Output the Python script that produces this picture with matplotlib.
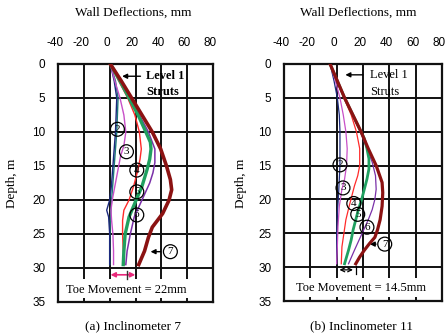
import matplotlib.pyplot as plt
from matplotlib.transforms import ScaledTranslation

plt.rcParams['axes.unicode_minus'] = False

W, H = 446, 336

# ---- Inclinometer 7 : depth (m) / deflection (mm) for each excavation stage ----
i7_d2 = [0, 2.5, 5, 10, 15, 18, 20, 21.5, 22.5, 25, 29.5]
i7_x2 = [0.5, 3.5, 5.5, 4.5, 2.5, 1.3, 0, -2.3, -0.8, 0, 0]
i7_d2b = [0, 2.5, 5, 10, 15, 20, 23, 26, 29.5]
i7_x2b = [0.5, 4.5, 6.5, 5.5, 3.5, 1.5, 0.5, 0, 0]
i7_d3 = [0, 2.5, 5, 7.5, 10, 12, 13.5, 15.5, 18, 20, 21.5, 23, 25, 27.5, 29.5]
i7_x3 = [0.5, 4, 8, 11, 12.5, 11, 8.5, 6.5, 4, 2, 1, 1.5, 2.5, 3, 3]
i7_d4 = [0, 2.5, 5, 7.5, 10, 12.5, 14, 15.5, 18, 20, 21.5, 23, 25, 27.5, 29.5]
i7_x4 = [0.5, 7, 14, 19.5, 23, 24.5, 23.5, 22, 18.5, 15, 11, 10, 10, 10.5, 11.5]
i7_d5 = [0, 2.5, 5, 7.5, 10, 11.5, 12.5, 14, 15.5, 18, 20, 22.5, 25, 27.5, 29.5]
i7_x5 = [0.5, 8, 15, 22, 28, 31.5, 32, 31, 29, 25, 20.5, 15, 12, 11, 10.5]
i7_d6 = [0, 2.5, 5, 7.5, 10, 12.5, 14.5, 16, 17.5, 20, 22.5, 25, 27.5, 29.5]
i7_x6 = [0.5, 8, 15.5, 23, 30, 35, 35, 33.5, 31, 25, 19, 16, 13.5, 12.5]
i7_d7 = [0, 2.5, 5, 7.5, 10, 12.5, 15, 17, 18.5, 20, 22, 24, 25.5, 27.5, 29.5]
i7_x7 = [0.5, 9, 17, 25, 33, 39.5, 44, 47, 48, 46, 41, 33, 30, 27, 22.5]

# ---- Inclinometer 11 ----
i11_d2 = [0, 2.5, 5, 7.5, 10, 15, 19, 22, 25, 29.5]
i11_x2 = [-5, -2, 0.5, 2, 2.5, 2.5, 1.5, 0.5, 0, 0]
i11_d3 = [0, 2.5, 5, 7.5, 10, 12.5, 15, 17, 18.5, 21, 24, 27, 29.5]
i11_x3 = [-5, -1, 2.5, 5, 7, 8, 7.5, 6, 4, 2, 1, 0.5, 0]
i11_d4 = [0, 5, 7.5, 10, 12.5, 15, 16.5, 18, 19.5, 21, 23, 25, 27, 29.5]
i11_x4 = [-5, 5.5, 11, 15, 17.5, 17.5, 16, 13.5, 11.5, 9.5, 7, 5.5, 4, 3.5]
i11_d5 = [0, 5, 10, 11, 12.5, 14, 15.5, 17, 18.5, 20, 21.5, 23, 24.5, 26, 27.5, 29.5]
i11_x5 = [-5, 6, 18.5, 21, 23, 24.5, 24.5, 23, 21, 19, 16.5, 14.5, 12.5, 11, 9, 6]
i11_d6 = [0, 5, 10, 12.5, 14.5, 16.5, 18.5, 20, 21.5, 23, 24.5, 26, 27.5, 29.5]
i11_x6 = [-5, 6, 18, 23, 27, 29.5, 30, 29, 27, 24, 20.5, 17, 13.5, 9]
i11_d7 = [0, 5, 10, 12.5, 15, 17.5, 19, 21, 23, 24.5, 25.6, 26.5, 27.5, 28.5, 29.5]
i11_x7 = [-5, 6, 18.5, 24, 30, 34.5, 35, 34.5, 33, 31, 29, 25, 21, 17.5, 14.5]

# stage label positions (deflection, depth)
i7_label_x = [6, 13, 21, 21, 21, 47]
i7_label_d = [9.6, 12.9, 15.6, 18.8, 22.2, 27.6]
i11_label_x = [2.5, 4.8, 13, 16, 23, 36.5]
i11_label_d = [14.9, 18.3, 20.6, 22.2, 24.1, 26.6]
stage_labels = ['2', '3', '4', '5', '6', '7']

toe_i7 = 22
toe_i11 = 14.5

x_ticks = [-40, -20, 0, 20, 40, 60, 80]
y_ticks = [0, 5, 10, 15, 20, 25, 30, 35]

# colours / widths per stage
colors = ['#1c2a7e', '#c850c8', '#ff2a2a', '#20a060', '#7a30a8', '#8b1212']
widths = [1.0, 1.0, 1.0, 2.4, 1.1, 2.6]

serif = 'Liberation Serif'
sans = 'Liberation Sans'

fig = plt.figure(figsize=(W / 100, H / 100), dpi=100)


def px_axes(x0, y0, x1, y1):
    return fig.add_axes([x0 / W, 1 - y1 / H, (x1 - x0) / W, (y1 - y0) / H])


def setup(ax):
    ax.set_xlim(-40, 80)
    ax.set_ylim(35, 0)
    ax.set_xticks(x_ticks)
    ax.set_yticks(y_ticks)
    ax.xaxis.tick_top()
    ax.tick_params(axis='x', length=0, pad=11, labelsize=8.5)
    ax.tick_params(axis='y', length=0, pad=9, labelsize=8.5)
    shift = ScaledTranslation(-3 / 100, 0, fig.dpi_scale_trans)
    for t in ax.get_xticklabels():
        t.set_fontfamily(sans)
        t.set_transform(t.get_transform() + shift)
    for t in ax.get_yticklabels():
        t.set_fontfamily(sans)
    for x in x_ticks[1:-1]:
        ax.axvline(x, color='#111111', lw=1.4, zorder=0.5)
    for y in y_ticks[1:-1]:
        ax.axhline(y, color='#111111', lw=1.4, zorder=0.5)
    # blank strip holding the toe note
    ax.axhspan(31.6, 34.4, color='white', lw=0, zorder=1)
    for s in ax.spines.values():
        s.set_linewidth(1.6)
        s.set_color('#111111')


def stage_circles(ax, xs, ds):
    for x, d, s in zip(xs, ds, stage_labels):
        ax.text(x, d, s, ha='center', va='center', fontsize=8, family=serif,
                bbox=dict(boxstyle='circle,pad=0.22', fc='none', ec='black', lw=0.9),
                zorder=6)


ax1 = px_axes(58, 64, 213, 302)
ax2 = px_axes(284, 64, 442, 301)
setup(ax1)
setup(ax2)

# Inclinometer 7
ax1.plot(i7_x2b, i7_d2b, color='#1a7a78', lw=1.0, zorder=3)
curves7 = [(i7_x2, i7_d2), (i7_x3, i7_d3), (i7_x4, i7_d4),
           (i7_x5, i7_d5), (i7_x6, i7_d6), (i7_x7, i7_d7)]
for (x, d), c, w in zip(curves7, colors, widths):
    ax1.plot(x, d, color=c, lw=w, zorder=3 + w)
stage_circles(ax1, i7_label_x, i7_label_d)
ax1.annotate('', xy=(29.5, 27.6), xytext=(41.5, 27.6),
             arrowprops=dict(arrowstyle='-|>', color='black', lw=1, mutation_scale=7))
ax1.annotate('', xy=(7.5, 1.8), xytext=(26, 1.8),
             arrowprops=dict(arrowstyle='-|>', color='black', lw=1, mutation_scale=7))
ax1.text(28.5, 1.8, 'Level 1', family=serif, fontweight='bold', fontsize=9, va='center')
ax1.text(28.5, 4.1, 'Struts', family=serif, fontweight='bold', fontsize=9, va='center')
ax1.annotate('', xy=(-1.5, 31.0), xytext=(toe_i7, 31.0),
             arrowprops=dict(arrowstyle='<|-|>', color='#e8287a', lw=1.2, mutation_scale=7))
ax1.plot([13.5, 13.5], [30.4, 31.6], color='#333333', lw=1.0, zorder=4)
ax1.text(12.5, 33.3, 'Toe Movement = %gmm' % toe_i7, ha='center', va='center',
         family=serif, fontsize=9, zorder=6)

# Inclinometer 11
curves11 = [(i11_x2, i11_d2), (i11_x3, i11_d3), (i11_x4, i11_d4),
            (i11_x5, i11_d5), (i11_x6, i11_d6), (i11_x7, i11_d7)]
widths11 = [0.9, 0.9, 0.9, 2.0, 0.9, 2.3]
for (x, d), c, w in zip(curves11, colors, widths11):
    ax2.plot(x, d, color=c, lw=w, zorder=3 + w)
stage_circles(ax2, i11_label_x, i11_label_d)
ax2.annotate('', xy=(23, 26.6), xytext=(32, 26.6),
             arrowprops=dict(arrowstyle='-|>', color='black', lw=1, mutation_scale=7))
ax2.annotate('', xy=(4.5, 1.6), xytext=(22, 1.6),
             arrowprops=dict(arrowstyle='-|>', color='black', lw=1, mutation_scale=7))
ax2.text(25.3, 1.6, 'Level 1', family=serif, fontsize=9, va='center')
ax2.text(25.3, 4.1, 'Struts', family=serif, fontsize=9, va='center')
ax2.annotate('', xy=(0, 30.4), xytext=(toe_i11, 30.4),
             arrowprops=dict(arrowstyle='<->', color='black', lw=0.9, mutation_scale=7))
ax2.plot([toe_i11, toe_i11], [29.9, 31.0], color='black', lw=0.9, zorder=4)
ax2.text(18.5, 33.1, 'Toe Movement = %gmm' % toe_i11, ha='center', va='center',
         family=serif, fontsize=9, zorder=6)

# titles, axis labels, captions
for cx, cap in [(133, '(a) Inclinometer 7'), (361, '(b) Inclinometer 11')]:
    fig.text(cx / W, 1 - 326 / H, cap, ha='center', va='center', family=serif, fontsize=9.5)
for cx in [133, 358]:
    fig.text(cx / W, 1 - 13 / H, 'Wall Deflections, mm', ha='center', va='center',
             family=serif, fontsize=9.5)
for lx in [12, 241]:
    fig.text(lx / W, 1 - 183 / H, 'Depth, m', rotation=90, ha='center', va='center',
             family=serif, fontsize=9.5)

fig.savefig('out.png', dpi=100)
